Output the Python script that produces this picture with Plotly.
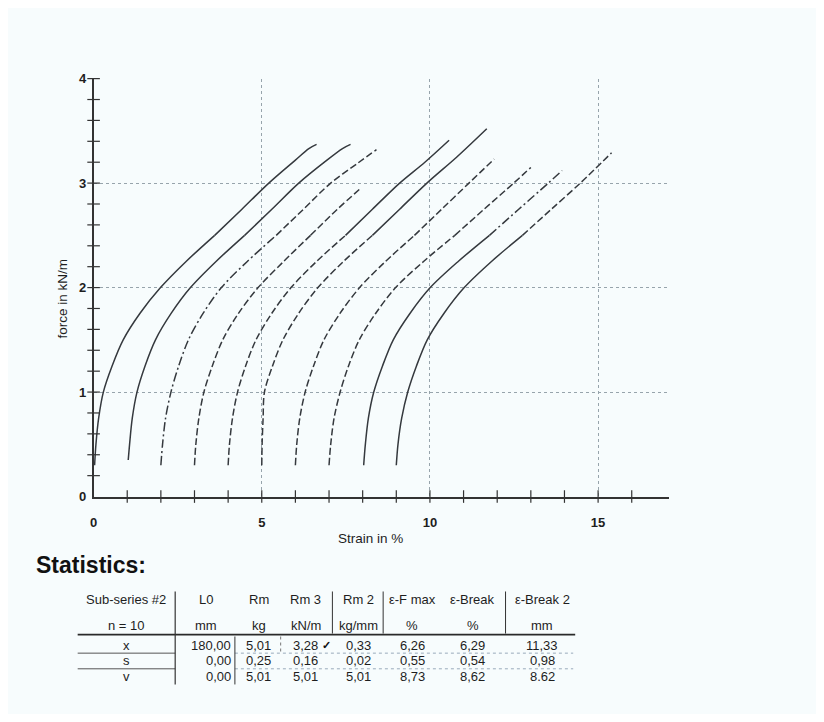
import numpy as np
import plotly.graph_objects as go

# ---------------- data ----------------
STRAIN_0 = [0.03, 0.07, 0.15, 0.29, 0.55, 0.88, 1.37, 1.99, 2.75, 3.60, 4.41, 5.21, 6.00, 6.40, 6.63]
FORCE_0 = [0.30, 0.50, 0.75, 1.00, 1.25, 1.50, 1.75, 2.00, 2.25, 2.50, 2.75, 3.00, 3.22, 3.33, 3.37]
STRAIN_1 = [1.03, 1.07, 1.15, 1.29, 1.53, 1.84, 2.30, 2.88, 3.64, 4.49, 5.30, 6.10, 6.90, 7.40, 7.64]
FORCE_1 = [0.35, 0.50, 0.75, 1.00, 1.25, 1.50, 1.75, 2.00, 2.25, 2.50, 2.75, 3.00, 3.21, 3.33, 3.37]
STRAIN_2 = [2.00, 2.05, 2.14, 2.30, 2.53, 2.82, 3.25, 3.80, 4.57, 5.43, 6.24, 7.05, 7.85, 8.41]
FORCE_2 = [0.30, 0.50, 0.75, 1.00, 1.25, 1.50, 1.75, 2.00, 2.25, 2.50, 2.75, 3.00, 3.19, 3.32]
STRAIN_3 = [3.00, 3.04, 3.13, 3.28, 3.53, 3.84, 4.30, 4.89, 5.65, 6.45, 7.25, 7.94]
FORCE_3 = [0.30, 0.50, 0.75, 1.00, 1.25, 1.50, 1.75, 2.00, 2.25, 2.50, 2.75, 2.95]
STRAIN_4 = [4.00, 4.04, 4.13, 4.28, 4.52, 4.83, 5.29, 5.87, 6.63, 7.49, 8.29, 9.10, 9.85, 10.57]
FORCE_4 = [0.30, 0.50, 0.75, 1.00, 1.25, 1.50, 1.75, 2.00, 2.25, 2.50, 2.75, 3.00, 3.20, 3.41]
STRAIN_5 = [5.00, 5.01, 5.04, 5.08, 5.32, 5.63, 6.09, 6.67, 7.43, 8.29, 9.10, 9.91, 10.80, 11.69]
FORCE_5 = [0.30, 0.50, 0.75, 1.00, 1.25, 1.50, 1.75, 2.00, 2.25, 2.50, 2.75, 3.00, 3.25, 3.52]
STRAIN_6 = [6.00, 6.04, 6.13, 6.29, 6.54, 6.85, 7.32, 7.91, 8.68, 9.54, 10.35, 11.16, 11.91]
FORCE_6 = [0.30, 0.50, 0.75, 1.00, 1.25, 1.50, 1.75, 2.00, 2.25, 2.50, 2.75, 3.00, 3.23]
STRAIN_7 = [7.00, 7.05, 7.15, 7.33, 7.58, 7.90, 8.38, 8.98, 9.81, 10.74, 11.61, 12.49, 13.00]
FORCE_7 = [0.30, 0.50, 0.75, 1.00, 1.25, 1.50, 1.75, 2.00, 2.25, 2.50, 2.75, 3.00, 3.15]
STRAIN_8 = [8.03, 8.08, 8.17, 8.33, 8.59, 8.91, 9.40, 10.01, 10.84, 11.77, 12.64, 13.52, 13.93]
FORCE_8 = [0.30, 0.50, 0.75, 1.00, 1.25, 1.50, 1.75, 2.00, 2.25, 2.50, 2.75, 3.00, 3.12]
STRAIN_9 = [9.00, 9.05, 9.16, 9.34, 9.60, 9.92, 10.41, 11.02, 11.83, 12.75, 13.61, 14.47, 15.40]
FORCE_9 = [0.30, 0.50, 0.75, 1.00, 1.25, 1.50, 1.75, 2.00, 2.25, 2.50, 2.75, 3.00, 3.29]

X_TICK_LABELS = ["0", "5", "10", "15"]
Y_TICK_LABELS = ["0", "1", "2", "3", "4"]

TABLE_HEAD1 = ["Sub-series #2", "L0", "Rm", "Rm 3", "Rm 2", "ε-F max", "ε-Break", "ε-Break 2"]
TABLE_HEAD2 = ["n = 10", "mm", "kg", "kN/m", "kg/mm", "%", "%", "mm"]
ROW_LABELS = ["x", "s", "v"]
ROW_X = ["180,00", "5,01", "3,28", "0,33", "6,26", "6,29", "11,33"]
ROW_S = ["0,00", "0,25", "0,16", "0,02", "0,55", "0,54", "0,98"]
ROW_V = ["0,00", "5,01", "5,01", "5,01", "8,73", "8,62", "8.62"]

# ---------------- styling ----------------
OFF = 8                      # default page margin of the html body
W, H = 824 - 2 * OFF, 722 - 2 * OFF
def fx(px):
    return (px - OFF) / W
def fy(py):
    return 1 - (py - OFF) / H

PLOT_L, PLOT_R, PLOT_T, PLOT_B = 90, 668, 73, 500
INK = "#35393e"
FONT = "Liberation Sans, Arial, sans-serif"

curves = [(STRAIN_0, FORCE_0), (STRAIN_1, FORCE_1), (STRAIN_2, FORCE_2), (STRAIN_3, FORCE_3),
          (STRAIN_4, FORCE_4), (STRAIN_5, FORCE_5), (STRAIN_6, FORCE_6), (STRAIN_7, FORCE_7),
          (STRAIN_8, FORCE_8), (STRAIN_9, FORCE_9)]
DASH = "7px,3px"
DASHDOT = "9px,3px,2px,3px"
lower_dash = ["solid", "solid", DASHDOT, DASH, DASH, DASH, DASH, DASH, "solid", "solid"]
upper_dash = ["solid", "solid", DASH, DASH, "solid", "solid", DASH, DASH, DASHDOT, DASH]
SPLIT = 9  # index of the 2.5 kN/m point

fig = go.Figure()
for i, (sx, sy) in enumerate(curves):
    fig.add_trace(go.Scatter(x=sx[:SPLIT + 1], y=sy[:SPLIT + 1], mode="lines",
                             line=dict(color=INK, width=1.5, dash=lower_dash[i], shape="spline", smoothing=0.9),
                             showlegend=False, hoverinfo="skip"))
    fig.add_trace(go.Scatter(x=sx[SPLIT:], y=sy[SPLIT:], mode="lines",
                             line=dict(color=INK, width=1.5, dash=upper_dash[i], shape="spline", smoothing=0.9),
                             showlegend=False, hoverinfo="skip"))

# crossing tick marks on the axes
xt = np.arange(1, 17, 1)
yt = np.round(np.arange(0.2, 4.01, 0.2), 2)
fig.add_trace(go.Scatter(x=xt, y=np.zeros_like(xt), mode="markers", cliponaxis=False,
                         marker=dict(symbol="line-ns", size=9, line=dict(width=1.2, color="#333")),
                         showlegend=False, hoverinfo="skip"))
fig.add_trace(go.Scatter(x=np.zeros_like(yt), y=yt, mode="markers", cliponaxis=False,
                         marker=dict(symbol="line-ew", size=9, line=dict(width=1.2, color="#333")),
                         showlegend=False, hoverinfo="skip"))

fig.update_layout(
    width=W, height=H,
    margin=dict(l=0, r=0, t=0, b=0),
    paper_bgcolor="#f7fcfd", plot_bgcolor="rgba(0,0,0,0)",
    font=dict(family=FONT, color="#1e1e1e"),
    xaxis=dict(domain=[fx(PLOT_L), fx(PLOT_R)], range=[0, 17.1], showline=True, linecolor="#333",
               linewidth=1.5, tickvals=[0, 5, 10, 15], ticktext=["<b>%s</b>" % t for t in X_TICK_LABELS],
               ticks="outside", ticklen=13, tickcolor="rgba(0,0,0,0)", tickfont=dict(size=13),
               showgrid=True, gridcolor="#97a4ac", griddash="3px,3px", gridwidth=1, zeroline=False),
    yaxis=dict(domain=[fy(PLOT_B), fy(PLOT_T)], range=[0, 4], showline=True, linecolor="#333",
               linewidth=1.5, tickvals=[0, 1, 2, 3, 4], ticktext=["<b>%s</b>" % t for t in Y_TICK_LABELS],
               ticks="outside", ticklen=3, tickcolor="rgba(0,0,0,0)", tickfont=dict(size=13),
               showgrid=True, gridcolor="#97a4ac", griddash="3px,3px", gridwidth=1, zeroline=False),
)

ann = []
ann.append(dict(x=fx(368), y=fy(543), text="Strain in %", font=dict(size=13.5)))
ann.append(dict(x=fx(59), y=fy(298), text="force in kN/m", textangle=-90, font=dict(size=13.5)))
ann.append(dict(x=fx(31), y=fy(570), text="<b>Statistics:</b>", xanchor="left", font=dict(size=23, color="#111")))

col_cx = [123, 203, 256, 303, 356, 410, 471, 541]
HEAD_Y1, HEAD_Y2 = 605, 632
ROW_Y = [652, 668, 684]
TFS = 13
for cx, h1, h2 in zip(col_cx, TABLE_HEAD1, TABLE_HEAD2):
    ann.append(dict(x=fx(cx), y=fy(HEAD_Y1), text=h1, font=dict(size=TFS)))
    ann.append(dict(x=fx(cx), y=fy(HEAD_Y2), text=h2, font=dict(size=TFS)))
for ry, lab, vals in zip(ROW_Y, ROW_LABELS, [ROW_X, ROW_S, ROW_V]):
    ann.append(dict(x=fx(col_cx[0]), y=fy(ry), text=lab, font=dict(size=TFS)))
    ann.append(dict(x=fx(229), y=fy(ry), text=vals[0], xanchor="right", font=dict(size=TFS)))
    for cx, v in zip(col_cx[2:], vals[1:]):
        ann.append(dict(x=fx(cx), y=fy(ry), text=v, font=dict(size=TFS)))
ann.append(dict(x=fx(324), y=fy(652), text="<b>✓</b>", font=dict(size=11, color="#111")))

for a in ann:
    a.setdefault("xref", "paper")
    a.setdefault("yref", "paper")
    a.setdefault("showarrow", False)
    a.setdefault("xanchor", "center")
    a.setdefault("yanchor", "middle")
    a.setdefault("borderpad", 0)
fig.update_layout(annotations=ann)

shapes = []
def seg(x0, y0, x1, y1, color="#333", width=1, dash="solid"):
    shapes.append(dict(type="line", xref="paper", yref="paper", x0=fx(x0), y0=fy(y0), x1=fx(x1), y1=fy(y1),
                       line=dict(color=color, width=width, dash=dash)))
seg(74, 641, 574, 641, "#2a2a2a", 1.8)
seg(74, 660, 172, 660, "#555", 1)
seg(232, 660, 572, 660, "#9ab", 1, "dot")
seg(74, 676, 172, 676, "#555", 1)
seg(232, 676, 572, 676, "#9ab", 1, "dot")
seg(172, 597, 172, 692, "#333", 1.2)
seg(232, 643, 232, 692, "#333", 1)
seg(278, 643, 278, 661, "#777", 1, "dot")
seg(330, 597, 330, 640, "#333", 1)
seg(381, 597, 381, 640, "#333", 1)
seg(504, 597, 504, 640, "#333", 1)
fig.update_layout(shapes=shapes)

fig.write_html("out.html")
